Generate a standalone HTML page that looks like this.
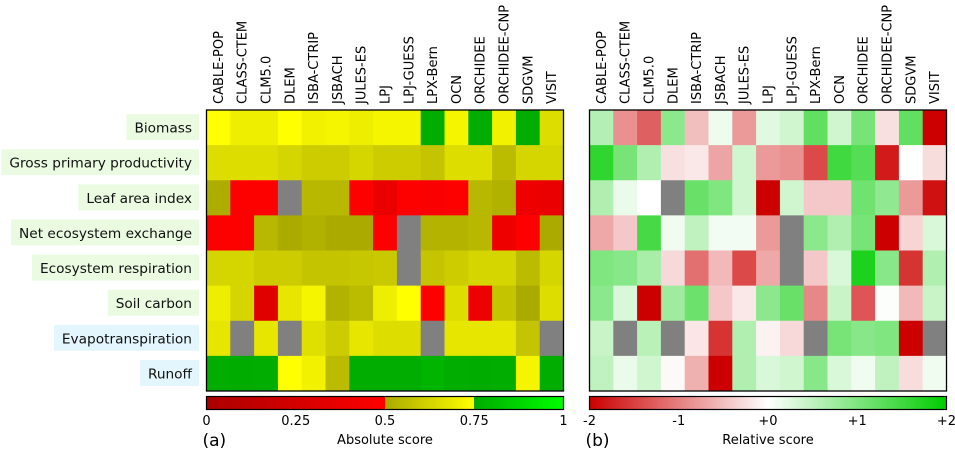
<!DOCTYPE html>
<html><head><meta charset="utf-8"><style>
html,body{margin:0;padding:0;background:#fff;width:955px;height:451px;overflow:hidden}
svg{display:block;font-family:"DejaVu Sans","Liberation Sans",sans-serif}
</style></head><body>
<svg id="c" width="955" height="451">
<defs>
<linearGradient id="ga" x1="0" x2="1" y1="0" y2="0">
<stop offset="0" stop-color="#aa0000"/><stop offset="0.5" stop-color="#ff0000"/>
<stop offset="0.5" stop-color="#aaaa00"/><stop offset="0.75" stop-color="#ffff00"/>
<stop offset="0.75" stop-color="#00aa00"/><stop offset="1" stop-color="#00ff00"/>
</linearGradient>
<linearGradient id="gr" x1="0" x2="1" y1="0" y2="0">
<stop offset="0" stop-color="#cc0000"/><stop offset="0.5" stop-color="#ffffff"/><stop offset="1" stop-color="#00cc00"/>
</linearGradient>
</defs>
</svg>
<script>
const models=["CABLE-POP","CLASS-CTEM","CLM5.0","DLEM","ISBA-CTRIP","JSBACH","JULES-ES","LPJ","LPJ-GUESS","LPX-Bern","OCN","ORCHIDEE","ORCHIDEE-CNP","SDGVM","VISIT"];
const variables=["Biomass","Gross primary productivity","Leaf area index","Net ecosystem exchange","Ecosystem respiration","Soil carbon","Evapotranspiration","Runoff"];
const N=null;
const absBiomass=[.749,.70,.70,.749,.71,.72,.70,.72,.72,.76,.72,.76,.71,.76,.65];
const absGPP=[.65,.65,.65,.626,.60,.60,.626,.60,.60,.576,.65,.65,.55,.626,.626];
const absLAI=[.51,.49,.49,N,.54,.54,.49,.38,.49,.47,.49,.54,.52,.40,.38];
const absNEE=[.49,.49,.54,.50,.52,.50,.50,.49,N,.53,.53,.54,.40,.49,.50];
const absResp=[.626,.626,.60,.60,.576,.576,.585,.59,N,.576,.60,.626,.626,.55,.626];
const absSoil=[.70,.626,.32,.676,.72,.524,.55,.70,.749,.49,.65,.40,.576,.50,.65];
const absET=[.676,N,.676,N,.66,.60,.676,.65,.65,N,.676,.676,.676,.576,N];
const absRunoff=[.76,.755,.76,.749,.71,.55,.76,.76,.76,.78,.76,.755,.76,.72,.76];
const absRows=[absBiomass,absGPP,absLAI,absNEE,absResp,absSoil,absET,absRunoff];
const relBiomass=[.6,-.87,-1.25,.9,-.5,.13,-.8,.24,.37,1.25,.37,1.06,-.24,1.25,-2];
const relGPP=[1.62,1.06,.62,-.24,-.18,-.71,.37,-.8,-.87,-1.43,1.5,1.33,-1.8,0,-.27];
const relLAI=[.62,.16,0,N,1.18,1.0,.37,-2,.37,-.43,-.43,1.12,.87,-.8,-1.87];
const relNEE=[-.68,-.43,1.44,.12,.5,.1,.1,-.8,N,.9,.62,1.06,-2,-.33,.3];
const relResp=[1.0,.93,.68,-.3,-1.12,-.55,-1.43,-.68,N,-.43,.3,1.78,.93,-1.6,.62];
const relSoil=[.9,.3,-2,.75,1.15,-.43,-.18,.9,1.18,-.93,.43,-1.33,.03,-.55,.43];
const relET=[.43,N,.55,N,-.2,-1.6,.62,-.1,-.3,N,1.06,.93,1.0,-2,N];
const relRunoff=[.5,.16,.37,-.05,-.62,-2,.62,.3,.37,.93,.3,.12,.5,-.27,.12];
const relRows=[relBiomass,relGPP,relLAI,relNEE,relResp,relSoil,relET,relRunoff];
const absTicks=["0","0.25","0.5","0.75","1"];
const relTicks=["-2","-1","+0","+1","+2"];
const labelBg=["#eafbe2","#eafbe2","#eafbe2","#eafbe2","#eafbe2","#eafbe2","#e4f6fd","#e4f6fd"];

const svg=document.getElementById('c');
const NS="http://www.w3.org/2000/svg";
function mk(tag,attrs,parent){const e=document.createElementNS(NS,tag);for(const k in attrs)e.setAttribute(k,attrs[k]);(parent||svg).appendChild(e);return e;}
function mix(a,b,t){return a.map((v,i)=>Math.round(v+(b[i]-v)*t));}
function rgb(c){return `rgb(${c[0]},${c[1]},${c[2]})`;}
function absColor(v){
  if(v<0.5)return rgb(mix([170,0,0],[255,0,0],v/0.5));
  if(v<0.75)return rgb(mix([170,170,0],[255,255,0],(v-0.5)/0.25));
  return rgb(mix([0,170,0],[0,255,0],(v-0.75)/0.25));
}
function relColor(v){
  v=Math.max(-2,Math.min(2,v));
  if(v<0)return rgb(mix([255,255,255],[204,0,0],-v/2));
  return rgb(mix([255,255,255],[0,204,0],v/2));
}
const TOPY=110,H=281,rowH=H/variables.length;
function yRow(i){return TOPY+i*rowH;}
function drawMap(x0,W,rows,colorFn,name){
  const cw=W/models.length;
  const g=mk('g',{});
  
  
  rows.forEach((row,r)=>row.forEach((v,c)=>{
    const rc=mk('rect',{x:x0+c*cw,y:yRow(r),width:cw+0.5,height:rowH+0.5,fill:v===null?'#808080':colorFn(v)},g);
    
    
  }));
  mk('rect',{x:x0,y:TOPY,width:W,height:H,fill:'none',stroke:'#000','stroke-width':1.3},g);
  models.forEach((m,c)=>{
    const cx=x0+(c+0.5)*cw+4.5;
    const t=mk('text',{x:cx,y:104,transform:`rotate(-90 ${cx} 104)`,'font-size':'13',fill:'#000'},g);
    t.textContent=m;
    
    
  });
}
drawMap(206.5,357,absRows,absColor,'absolute-score-heatmap');
drawMap(589.5,357,relRows,relColor,'relative-score-heatmap');
variables.forEach((v,i)=>{
  const cy=yRow(i)+rowH/2;
  const t=mk('text',{x:192,y:cy+5,'text-anchor':'end','font-size':'13.7',fill:'#111'});
  t.textContent=v;
  
  
  const w=t.getComputedTextLength();
  const bg=mk('rect',{x:192-w-8,y:cy-13.5,width:w+15,height:26,fill:labelBg[i]});
  
  
  svg.insertBefore(bg,t);
});
function colorbar(x0,W,grad,ticks,title,tag,name){
  const r=mk('rect',{x:x0,y:396.5,width:W,height:13,fill:`url(#${grad})`,stroke:'#000','stroke-width':1.2});
  
  
  ticks.forEach((tk,i)=>{
    const t=mk('text',{x:x0+W*i/(ticks.length-1),y:425,'text-anchor':'middle','font-size':'13',fill:'#000'});
    t.textContent=tk;
    
    
  });
  const tt=mk('text',{x:x0+W/2,y:444,'text-anchor':'middle','font-size':'13',fill:'#000'});
  tt.textContent=title;
  
  
  const p=mk('text',{x:x0-4,y:446,'font-size':'17',fill:'#000'});
  p.textContent=tag;
  
  
}
colorbar(206.5,357,'ga',absTicks,'Absolute score','(a)','absolute-colorbar');
colorbar(589.5,357,'gr',relTicks,'Relative score','(b)','relative-colorbar');
</script>
</body></html>
